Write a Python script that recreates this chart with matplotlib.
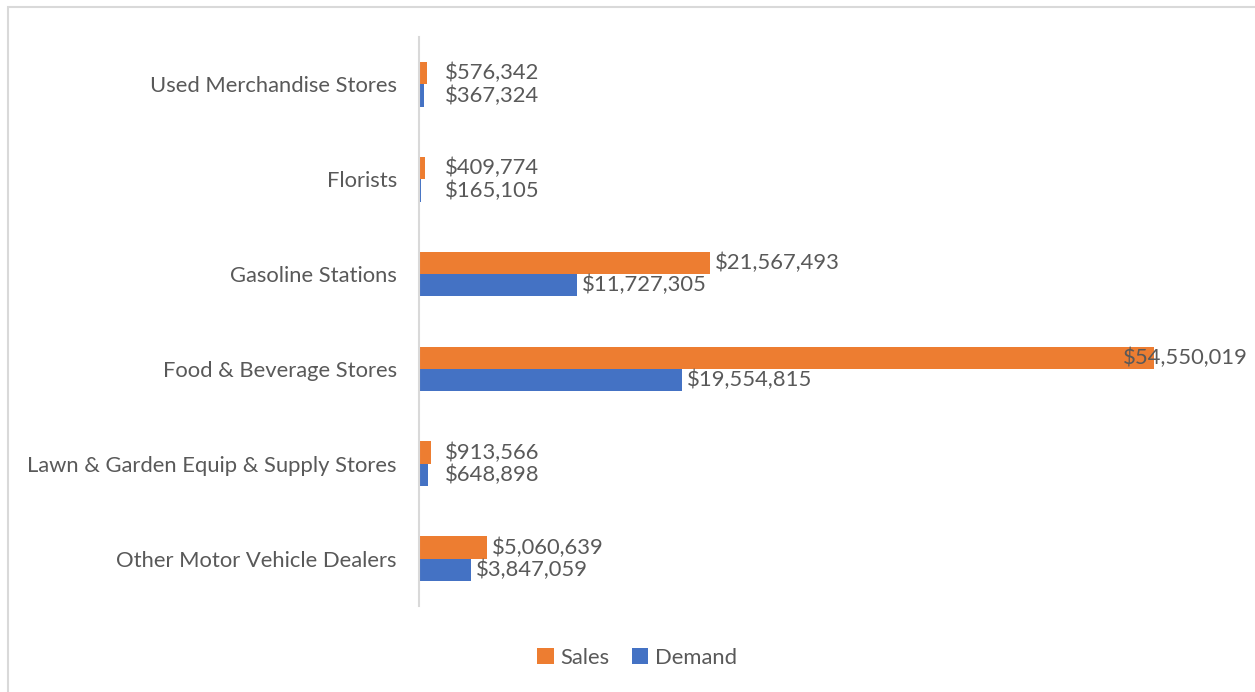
import matplotlib
matplotlib.use("Agg")
import matplotlib.pyplot as plt
from matplotlib.patches import Rectangle
import numpy as np

categories = ["Used Merchandise Stores", "Florists", "Gasoline Stations",
              "Food & Beverage Stores", "Lawn & Garden Equip & Supply Stores",
              "Other Motor Vehicle Dealers"]
sales = [576342, 409774, 21567493, 54550019, 913566, 5060639]
demand = [367324, 165105, 11727305, 19554815, 648898, 3847059]

ORANGE = "#ED7D31"
BLUE = "#4472C4"
TXT = "#595959"
plt.rcParams['font.family'] = ['Lato', 'DejaVu Sans']
FS = 15.8

W, H = 1255, 692
fig = plt.figure(figsize=(W / 100, H / 100), dpi=100)
# chart border
fig.patches.append(Rectangle((8 / W, -0.1), 1.2, 1 - 7 / H + 0.1, transform=fig.transFigure,
                             fill=False, edgecolor="#D9D9D9", linewidth=1.5))

left, right = 419 / W, 1248 / W
bottom, top = 1 - 606 / H, 1 - 37 / H
ax = fig.add_axes([left, bottom, right - left, top - bottom])

px_per_val = 735 / 54550019
xmax = (1248 - 419) / px_per_val
ax.set_xlim(0, xmax)
n = len(categories)
y = np.arange(n)
ax.set_ylim(n - 0.5, -0.5)
bh = 0.235
ax.barh(y - bh / 2, sales, height=bh, color=ORANGE, label="Sales")
ax.barh(y + bh / 2, demand, height=bh, color=BLUE, label="Demand")

for spine in ["top", "right", "bottom"]:
    ax.spines[spine].set_visible(False)
ax.spines["left"].set_color("#D9D9D9")
ax.spines["left"].set_linewidth(1.5)
ax.set_xticks([])
ax.set_yticks(y)
ax.set_yticklabels(categories, fontsize=FS, color=TXT)
ax.tick_params(axis="y", length=0, pad=16)

min_start = 21 / px_per_val  # labels of tiny bars start a little right of the axis

def label(val, yy):
    s = "${:,}".format(val)
    if val > 0.8 * xmax:
        ax.annotate(s, (xmax, yy), xytext=(0, 0), textcoords="offset points",
                    ha="right", va="center", fontsize=FS, color=TXT, clip_on=False)
    else:
        ax.annotate(s, (max(val, min_start), yy), xytext=(3.5, 0), textcoords="offset points",
                    ha="left", va="center", fontsize=FS, color=TXT)

for i in range(n):
    label(sales[i], y[i] - bh / 2)
    label(demand[i], y[i] + bh / 2)

fig.legend(loc="center", bbox_to_anchor=(637 / W, 1 - 658 / H), ncol=2, frameon=False,
           fontsize=FS, labelcolor=TXT, handlelength=0.75, handleheight=0.75,
           handletextpad=0.3, columnspacing=1.0)

fig.savefig("out.png", dpi=100)
